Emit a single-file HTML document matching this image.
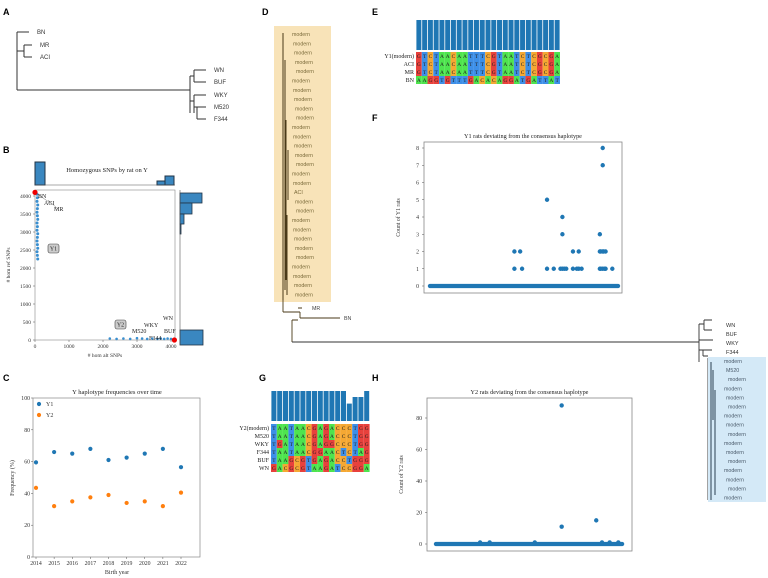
<!DOCTYPE html>
<html><head><meta charset="utf-8"><style>
body{margin:0;background:#fff}
svg{display:block;font-family:"Liberation Serif",serif}
.s{font-family:"Liberation Sans",sans-serif}
</style></head><body>
<svg id="fig" width="768" height="578" viewBox="0 0 768 578" xmlns="http://www.w3.org/2000/svg">
<g class="s" font-weight="bold" font-size="9">
<text x="3" y="15">A</text>
<text x="3" y="153">B</text>
<text x="3" y="381">C</text>
<text x="262" y="15">D</text>
<text x="372" y="15">E</text>
<text x="372" y="121">F</text>
<text x="259" y="381">G</text>
<text x="372" y="381">H</text>
</g>
<g stroke="#333" stroke-width="1" fill="none">
<path d="M17 32V90M17 32H29M17 51H24M24 45V57M24 45H32M24 57H32M17 90H190M190 76V113M190 76H194M194 70V82M194 70H206M194 82H206M190 101H194M194 95V113M194 95H206M194 107H197M197 107V119M197 107H206M197 119H206"/>
</g>
<g class="s" font-size="6" fill="#333">
<text x="37" y="34">BN</text>
<text x="40" y="47">MR</text>
<text x="40" y="59">ACI</text>
<text x="214" y="72">WN</text>
<text x="214" y="84">BUF</text>
<text x="214" y="97">WKY</text>
<text x="214" y="109">M520</text>
<text x="214" y="121">F344</text>
</g>
<g id="panelB"></g>
<g id="panelC"></g>
<g id="panelD"></g>
<g id="panelE"></g>
<g id="panelF"></g>
<g id="panelG"></g>
<g id="panelH"></g>
</svg>
<script>
// ---- data ----
const cYears=[2014,2015,2016,2017,2018,2019,2020,2021,2022];
const cY1=[59.5,66,65,68,61,62.5,65,68,56.5];
const cY2=[43.5,32,35,37.5,39,34,35,32,40.5];
const bY1Ref=[4050,3950,3850,3750,3650,3550,3450,3350,3250,3150,3050,2950,2850,2750,2650,2550,2450,2350,2250];
const bY1Alt=[60,70,60,80,70,60,70,80,60,70,60,80,70,60,70,80,60,70,80];
const bY2Alt=[2200,2400,2600,2800,3000,3150,3300,3450,3600,3700,3800,3900,4000];
const bY2Ref=[40,30,40,30,50,40,30,40,30,40,30,40,30];
const bTicksY=[0,500,1000,1500,2000,2500,3000,3500,4000];
const bTicksX=[0,1000,2000,3000,4000];
const fPos=[90,96,90,98,124,124,131,140,140,138,140,142,144,151,157,151,155,157,160,179,182,182,179,180,182,183,185,179,180,182,184,185,192];
const fCount=[2,2,1,1,5,1,1,4,3,1,1,1,1,2,2,1,1,1,1,3,8,7,2,2,2,2,2,1,1,1,1,1,1];
const fTicks=[0,1,2,3,4,5,6,7,8];
const hPos=[133,133,169,48,58,105,183,192,175];
const hCount=[88,11,15,1,1,1,1,1,1];
const hTicks=[0,20,40,60,80];
const eNames=["Y1(modern)","ACI","MR","BN"];
const eSeqs=["GTCTAACAATTTCGTAATCTCGCGA","GTCTAACAATTTCGTAATCTCGCGA","GTCTAACAATTTCGTAATCTCGCGA","AAGGTGTTTGACACAGGATGATTAT"];
const eBars=[1,1,1,1,1,1,1,1,1,1,1,1,1,1,1,1,1,1,1,1,1,1,1,1,1];
const gNames=["Y2(modern)","M520","WKY","F344","BUF","WN"];
const gSeqs=["TAATAACGAGACCCTGG","TAATAACGAGACCCTGG","TGATAACGAGGCCCTGG","TAATAACGGAACTCTAG","TAAGCGTGAGACCTGGG","GACGCGTAAGATCCGGA"];
const gBars=[1,1,1,1,1,1,1,1,1,1,1,1,1,0.58,0.8,0.8,1];
const NS="http://www.w3.org/2000/svg";
function mk(p,t,a,txt){const e=document.createElementNS(NS,t);for(const k in a)e.setAttribute(k,a[k]);if(txt!==undefined)e.textContent=txt;p.appendChild(e);return e;}
const BLUE="#1f77b4",ORANGE="#ff7f0e";

// ---- Panel B ----
(function(){
const g=document.getElementById('panelB');
const sx=v=>35+v*0.034, sy=v=>340-v*0.036;
const th=mk(g,'rect',{x:35,y:162,width:10,height:23,fill:"#3a87c0",stroke:"#234"});

mk(g,'rect',{x:157,y:181,width:8,height:4,fill:"#3a87c0",stroke:"#234"});
mk(g,'rect',{x:165,y:176,width:9,height:9,fill:"#3a87c0",stroke:"#234"});
mk(g,'line',{x1:35,y1:185,x2:175,y2:185,stroke:"#555","stroke-width":0.6});
const t=mk(g,'text',{x:107,y:172,"font-size":6.5,"text-anchor":"middle",fill:"#222"},"Homozygous SNPs by rat on Y");

[[193,203,202],[203,214,192],[214,224,184],[224,234,181],[330,345,203]].forEach(r=>{
const b=mk(g,'rect',{x:180,y:r[0],width:r[2]-180,height:r[1]-r[0],fill:"#3a87c0",stroke:"#234","stroke-width":0.8});
});
mk(g,'line',{x1:180,y1:190,x2:180,y2:345,stroke:"#555","stroke-width":0.6});
mk(g,'rect',{x:35,y:190,width:140,height:150,fill:"none",stroke:"#888","stroke-width":0.6});
bTicksY.forEach(v=>{mk(g,'line',{x1:33,x2:35,y1:sy(v),y2:sy(v),stroke:"#555","stroke-width":0.5});
mk(g,'text',{x:31,y:sy(v)+2,"font-size":5.5,"text-anchor":"end",fill:"#333"},v);});
bTicksX.forEach(v=>{mk(g,'line',{x1:sx(v),x2:sx(v),y1:340,y2:342,stroke:"#555","stroke-width":0.5});
mk(g,'text',{x:sx(v),y:348,"font-size":5.5,"text-anchor":"middle",fill:"#333"},v);});
mk(g,'text',{x:105,y:357,"font-size":5.5,"text-anchor":"middle",fill:"#333"},"# hom alt SNPs");
mk(g,'text',{x:10,y:265,"font-size":5.5,"text-anchor":"middle",fill:"#333",transform:"rotate(-90 10 265)"},"# hom ref SNPs");
bY1Ref.forEach((v,i)=>{const c=mk(g,'circle',{cx:sx(bY1Alt[i]),cy:sy(v),r:1.5,fill:"#3a8fd0"});
});
bY2Alt.forEach((v,i)=>{const c=mk(g,'circle',{cx:sx(v),cy:sy(bY2Ref[i]),r:1.3,fill:"#3a8fd0"});
});
mk(g,'circle',{cx:sx(0),cy:sy(4100),r:2.6,fill:"#e00"});
mk(g,'circle',{cx:sx(4100),cy:sy(0),r:2.6,fill:"#e00"});
mk(g,'path',{d:"M37 194L52 204M48 200L58 209",stroke:"#555","stroke-width":0.4,fill:"none"});
[["BN",38,198],["ACI",44,205],["MR",54,211],["WKY",144,327],["WN",163,320],["BUF",164,333],["M520",132,333],["F344",149,340]].forEach(a=>{
const l=mk(g,'text',{x:a[1],y:a[2],"font-size":6,fill:"#222"},a[0]);});
[["Y1",48,244],["Y2",115,320]].forEach(a=>{
mk(g,'rect',{x:a[1],y:a[2],width:11,height:9,rx:2,fill:"#ccc",stroke:"#444","stroke-width":0.6});
mk(g,'text',{x:a[1]+5.5,y:a[2]+6.5,"font-size":6,"text-anchor":"middle",fill:"#222"},a[0]);});
})();

// ---- Panel C ----
(function(){
const g=document.getElementById('panelC');
const x0=33,x1=200,yT=398,yB=557;
const sx=v=>36+(v-2014)*(181-36)/8, sy=v=>yB-v*(yB-yT)/100;
mk(g,'rect',{x:x0,y:yT,width:x1-x0,height:yB-yT,fill:"none",stroke:"#888","stroke-width":0.7});
mk(g,'text',{x:117,y:394,"font-size":6.5,"text-anchor":"middle",fill:"#222"},"Y haplotype frequencies over time");
[0,20,40,60,80,100].forEach(v=>{mk(g,'line',{x1:x0-2,x2:x0,y1:sy(v),y2:sy(v),stroke:"#555","stroke-width":0.5});
mk(g,'text',{x:x0-3,y:sy(v)+2,"font-size":5.8,"text-anchor":"end",fill:"#333"},v);});
cYears.forEach(v=>{mk(g,'line',{x1:sx(v),x2:sx(v),y1:yB,y2:yB+2,stroke:"#555","stroke-width":0.5});
mk(g,'text',{x:sx(v),y:yB+8,"font-size":5.8,"text-anchor":"middle",fill:"#333"},v);});
mk(g,'text',{x:117,y:574,"font-size":6,"text-anchor":"middle",fill:"#333"},"Birth year");
mk(g,'text',{x:14,y:478,"font-size":6,"text-anchor":"middle",fill:"#333",transform:"rotate(-90 14 478)"},"Frequency (%)");
cYears.forEach((yr,i)=>{
const a=mk(g,'circle',{cx:sx(yr),cy:sy(cY1[i]),r:2.1,fill:BLUE});

const b=mk(g,'circle',{cx:sx(yr),cy:sy(cY2[i]),r:2.1,fill:ORANGE});
});
mk(g,'circle',{cx:39,cy:404,r:2.1,fill:BLUE});mk(g,'text',{x:46,y:406,"font-size":6,fill:"#333"},"Y1");
mk(g,'circle',{cx:39,cy:415,r:2.1,fill:ORANGE});mk(g,'text',{x:46,y:417,"font-size":6,fill:"#333"},"Y2");
})();

// ---- Panel D tree ----
(function(){
const g=document.getElementById('panelD');
mk(g,'rect',{x:274,y:26,width:57,height:276,fill:"#f8e3b8"});
const labs=[];for(let i=0;i<29;i++)labs.push(i===17?"ACI":"modern");
mk(g,'path',{d:"M283 33V300M285 60V290M286 120V280M288 150V200M287 215V295",stroke:"#4a3a18","stroke-width":1,fill:"none"});
labs.forEach((l,i)=>{const y=35+i*9.3;
const t=mk(g,'text',{x:292+(i%5),y:y+1,"font-size":5.3,fill:"#7a6a3a","font-family":"Liberation Sans,sans-serif"},l);
});
mk(g,'path',{d:"M283 300V312M283 312H300M292 320V342M292 320H298M298 308H302M300 312V318M300 318H340",stroke:"#4a3a18","stroke-width":0.9,fill:"none"});
mk(g,'path',{d:"M292 342H699M699 324V362M699 324H704M704 320V330M704 320H712M704 330H712M699 340H713M699 350H703M703 350V356M703 350H712M703 356H708M708 358V500",stroke:"#333","stroke-width":0.9,fill:"none"});
mk(g,'text',{x:312,y:310,"font-size":5.3,fill:"#444","font-family":"Liberation Sans,sans-serif"},"MR");
mk(g,'text',{x:344,y:320,"font-size":5.3,fill:"#444","font-family":"Liberation Sans,sans-serif"},"BN");
mk(g,'rect',{x:708,y:357,width:58,height:145,fill:"#d4e9f7"});
mk(g,'path',{d:"M711 362V500M713 370V420M715 390V495",stroke:"#2a3e50","stroke-width":1,fill:"none"});
[["WN",325],["BUF",334],["WKY",343],["F344",352]].forEach(a=>{
const t=mk(g,'text',{x:726,y:a[1]+2,"font-size":5.5,fill:"#333","font-family":"Liberation Sans,sans-serif"},a[0]);
});
for(let i=0;i<16;i++){const l=i===1?"M520":"modern";
const t=mk(g,'text',{x:724+(i%3)*2,y:363+i*9.1,"font-size":5.3,fill:"#4a5a6a","font-family":"Liberation Sans,sans-serif"},l);
}
})();

// ---- Alignments ----
const NUC={A:"#4ee44e",C:"#f5a833",G:"#e8413c",T:"#3d8fe8"};
function align(gid,names,seqs,bars,x0,w,barTop,barH,rowTop,rowH){
const g=document.getElementById(gid);
bars.forEach((v,i)=>{const b=mk(g,'rect',{x:x0+i*w+0.4,y:barTop+barH*(1-v),width:w-0.8,height:barH*v,fill:BLUE});
});
seqs.forEach((s,r)=>{const y=rowTop+r*rowH;
mk(g,'text',{x:x0-2,y:y+rowH-1.8,"font-size":6,"text-anchor":"end",fill:"#222"},names[r]);
[...s].forEach((c,i)=>{mk(g,'rect',{x:x0+i*w,y:y,width:w,height:rowH,fill:NUC[c]});
mk(g,'text',{x:x0+i*w+w/2,y:y+rowH-1.8,"font-size":5.4,"text-anchor":"middle",fill:"#222"},c);});});
}
align('panelE',eNames,eSeqs,eBars,416,5.76,20,30,52,8);
align('panelG',gNames,gSeqs,gBars,271,5.8,391,30,424,8);

// ---- scatter F/H ----
function scat(gid,title,ylab,pos,cnt,ticks,ymax,x0,x1,yT,yB,px0,px1,zeroFrom,zeroTo,fTop,fBot){
const g=document.getElementById(gid);
const sx=v=>px0+v*(px1-px0)/200, sy=v=>yB-v*(yB-yT)/ymax;
mk(g,'rect',{x:x0,y:fTop,width:x1-x0,height:fBot-fTop,fill:"none",stroke:"#888","stroke-width":0.8});
mk(g,'text',{x:(x0+x1)/2,y:fTop-4,"font-size":6.2,"text-anchor":"middle",fill:"#222"},title);
ticks.forEach(v=>{mk(g,'line',{x1:x0-2,x2:x0,y1:sy(v),y2:sy(v),stroke:"#555","stroke-width":0.5});
mk(g,'text',{x:x0-5,y:sy(v)+2,"font-size":5.8,"text-anchor":"end",fill:"#333"},v);});
const ly=(fTop+fBot)/2;
mk(g,'text',{x:x0-24,y:ly,"font-size":5.8,"text-anchor":"middle",fill:"#333",transform:`rotate(-90 ${x0-24} ${ly})`},ylab);
const z=mk(g,'line',{x1:sx(zeroFrom),x2:sx(zeroTo),y1:sy(0),y2:sy(0),stroke:BLUE,"stroke-width":4.2,"stroke-linecap":"round"});

pos.forEach((p,i)=>{const c=mk(g,'circle',{cx:sx(p),cy:sy(cnt[i]),r:2.2,fill:BLUE});
});
}
scat('panelF',"Y1 rats deviating from the consensus haplotype","Count of Y1 rats",fPos,fCount,fTicks,8,424,622,148,286,428,620,2,198,142,293);
scat('panelH',"Y2 rats deviating from the consensus haplotype","Count of Y2 rats",hPos,hCount,hTicks,80,427,632,418,544,434,626,2,196,398,551);
</script>
</body></html>
